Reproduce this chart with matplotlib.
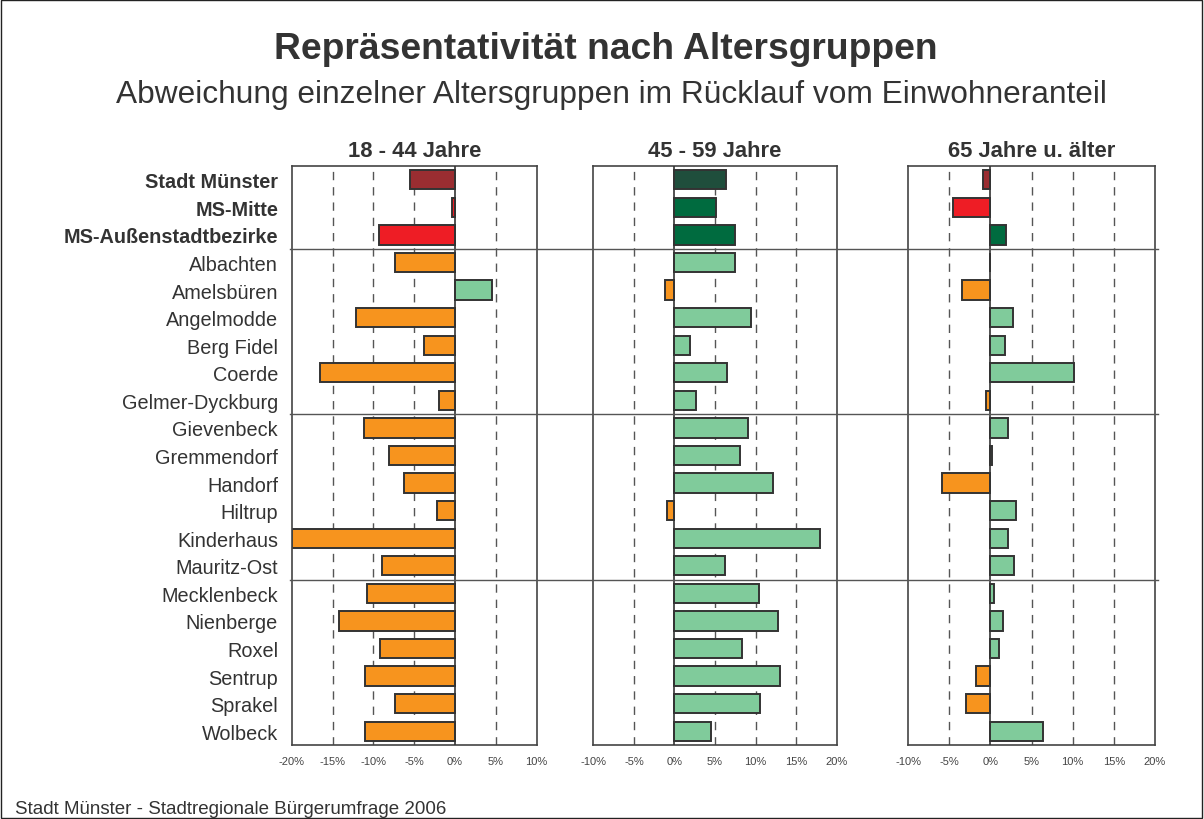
import matplotlib
matplotlib.use("Agg")
import matplotlib.pyplot as plt
import matplotlib.transforms as mtransforms
from matplotlib.lines import Line2D
from matplotlib.patches import Rectangle
import numpy as np

plt.rcParams["font.family"] = ["Liberation Sans", "DejaVu Sans"]

TITLE = "Repräsentativität nach Altersgruppen"
SUBTITLE = "Abweichung einzelner Altersgruppen im Rücklauf vom Einwohneranteil"
SOURCE = "Stadt Münster - Stadtregionale Bürgerumfrage 2006"

CATEGORIES = [
    "Stadt Münster", "MS-Mitte", "MS-Außenstadtbezirke",
    "Albachten", "Amelsbüren", "Angelmodde", "Berg Fidel", "Coerde",
    "Gelmer-Dyckburg", "Gievenbeck", "Gremmendorf", "Handorf", "Hiltrup",
    "Kinderhaus", "Mauritz-Ost", "Mecklenbeck", "Nienberge", "Roxel",
    "Sentrup", "Sprakel", "Wolbeck",
]
GROUPS = ["18 - 44 Jahre", "45 - 59 Jahre", "65 Jahre u. älter"]

AGE_18_44 = [-5.5, -0.4, -9.3, -7.3, 4.6, -12.1, -3.8, -16.6, -2.0, -11.2,
             -8.1, -6.3, -2.2, -20.0, -9.0, -10.8, -14.2, -9.2, -11.1, -7.4, -11.0]
AGE_45_59 = [6.4, 5.1, 7.4, 7.5, -1.15, 9.4, 1.9, 6.45, 2.6, 9.1,
             8.05, 12.1, -0.9, 17.9, 6.2, 10.4, 12.7, 8.3, 13.0, 10.5, 4.55]
AGE_65_UP = [-0.85, -4.5, 1.95, -0.1, -3.45, 2.75, 1.8, 10.2, -0.55, 2.2,
             0.25, -5.85, 3.15, 2.2, 2.9, 0.45, 1.55, 1.0, -1.75, -2.9, 6.45]
XLIMITS = [(-20, 10), (-10, 20), (-10, 20)]
XTICKS = [np.arange(-20, 11, 5), np.arange(-10, 21, 5), np.arange(-10, 21, 5)]
SEPARATORS = [2.5, 8.5, 14.5]

# colours: (negative, positive) per row level
COL_CITY = ("#9a2d31", "#1f4e3c")
COL_PART = ("#ee1d25", "#006b3f")
COL_DIST = ("#f7941e", "#80cb9b")
EDGE = "#333333"


def bar_colors(values):
    cols = []
    for i, v in enumerate(values):
        pair = COL_CITY if i == 0 else COL_PART if i < 3 else COL_DIST
        cols.append(pair[0] if v < 0 else pair[1])
    return cols


fig = plt.figure(figsize=(12.04, 8.2), dpi=100)
fig.add_artist(Rectangle((0.0005, 0.0008), 0.998, 0.998, transform=fig.transFigure,
                         fill=False, edgecolor="#222222", linewidth=1.0))

fig.text(0.503, 0.9400, TITLE, ha="center", va="center", fontsize=26.8,
         fontweight="bold", color="#333333")
fig.text(0.508, 0.8840, SUBTITLE, ha="center", va="center", fontsize=22.8,
         color="#333333")
fig.text(0.0125, 0.0075, SOURCE, ha="left", va="baseline", fontsize=13.5, color="#333333")

positions = [(0.2425, 0.2031), (0.4928, 0.2022), (0.7542, 0.2051)]
bottom, height = 0.0902, 0.7061
y = np.arange(len(CATEGORIES))
axes = []
for k, (values, group) in enumerate(zip([AGE_18_44, AGE_45_59, AGE_65_UP], GROUPS)):
    left, width = positions[k]
    ax = fig.add_axes([left, bottom, width, height])
    axes.append(ax)
    for xt in XTICKS[k]:
        if xt != 0 and XLIMITS[k][0] < xt < XLIMITS[k][1]:
            ax.axvline(xt, color="#555555", linewidth=1.0, linestyle=(0, (6, 5)), zorder=1)
    ax.barh(y, values, height=0.7, color=bar_colors(values), edgecolor=EDGE,
            linewidth=1.4, zorder=2)
    ax.axvline(0, color="#333333", linewidth=1.2, zorder=3)
    ax.set_xlim(*XLIMITS[k])
    ax.set_ylim(len(CATEGORIES) - 0.5, -0.5)
    ax.set_xticks(XTICKS[k])
    ax.set_xticklabels([f"{t}%" for t in XTICKS[k]], fontsize=8, color="#444444")
    ax.tick_params(axis="x", length=0, pad=8)
    ax.set_title(group, fontsize=15.8, fontweight="bold", color="#333333", pad=7)
    for s in ax.spines.values():
        s.set_color("#444444")
        s.set_linewidth(1.2)
    if k == 0:
        ax.set_yticks(y)
        ax.set_yticklabels(CATEGORIES, fontsize=14.3, color="#333333")
        ax.tick_params(axis="y", length=0, pad=10)
        for i, lab in enumerate(ax.get_yticklabels()):
            if i < 3:
                lab.set_fontweight("bold")
    else:
        ax.set_yticks([])

# horizontal separators across all panels
trans = mtransforms.blended_transform_factory(fig.transFigure, axes[0].transData)
for sep in SEPARATORS:
    fig.add_artist(Line2D([0.241, 0.962], [sep, sep], transform=trans,
                          color="#555555", linewidth=1.0, zorder=5))

fig.savefig("out.png", dpi=100)
